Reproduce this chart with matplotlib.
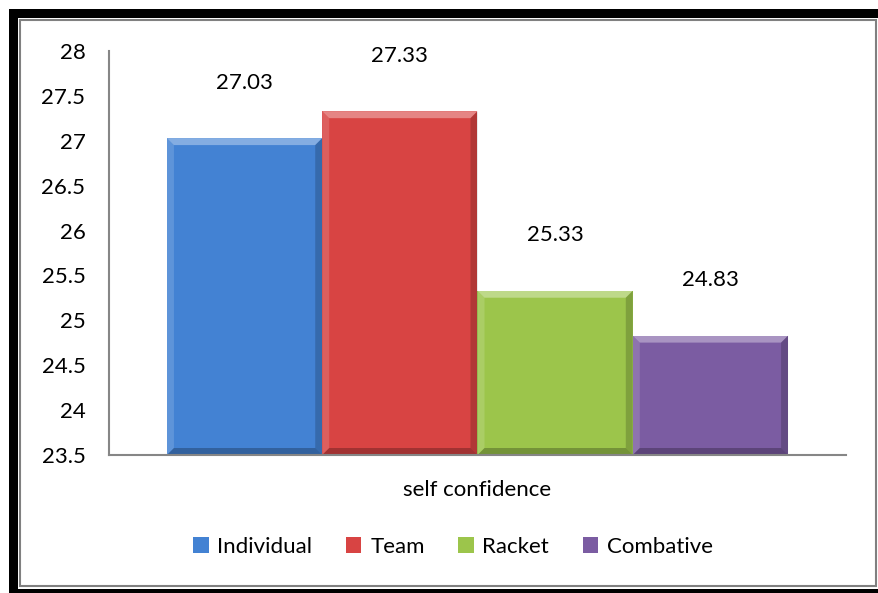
import matplotlib
matplotlib.use("Agg")
import matplotlib.pyplot as plt
from matplotlib.patches import Rectangle, Polygon
import numpy as np

category = "self confidence"
groups = ["Individual", "Team", "Racket", "Combative"]
values = [27.03, 27.33, 25.33, 24.83]
colors = ["#4382D3", "#D84443", "#9CC54B", "#7B5CA2"]
yticks = [23.5, 24, 24.5, 25, 25.5, 26, 26.5, 27, 27.5, 28]

W, H = 879, 593
plt.rcParams["font.family"] = ["Lato", "DejaVu Sans"]
fig = plt.figure(figsize=(W / 100, H / 100), dpi=100)

def px(x0, y0, x1, y1):
    # pixel box (top-left origin) -> figure fraction rect
    return (x0 / W, 1 - y1 / H, (x1 - x0) / W, (y1 - y0) / H)

# frame around the chart
for box in [(9, 9, 879, 18), (9, 9, 18, 593), (9, 589, 879, 593)]:
    x, y, w, h = px(*box)
    fig.add_artist(Rectangle((x, y), w, h, transform=fig.transFigure,
                             facecolor="black", edgecolor="none"))
x, y, w, h = px(20, 20, 876, 586)
fig.add_artist(Rectangle((x, y), w, h, transform=fig.transFigure,
                         facecolor="none", edgecolor="#808080", lw=1.5))

ax = fig.add_axes(px(109, 51, 846, 455))
n = len(groups)
bw = 0.2107
offsets = (np.arange(n) - (n - 1) / 2) * bw
bars = ax.bar(offsets, values, width=bw, color=colors, bottom=0, zorder=2)
ax.set_xlim(-0.5, 0.5)
ax.set_ylim(23.5, 28)

# bevel shading on each bar
bx = 7 / 737.0
by = 7 / (404 / 4.5)
y0 = 23.5
for b, c in zip(bars, colors):
    l = b.get_x(); r = l + b.get_width(); t = b.get_height()
    shades = [
        ([(l, t), (r, t), (r - bx, t - by), (l + bx, t - by)], "white", 0.35),
        ([(l, t), (l + bx, t - by), (l + bx, y0 + by), (l, y0)], "white", 0.15),
        ([(r, t), (r - bx, t - by), (r - bx, y0 + by), (r, y0)], "black", 0.18),
        ([(l, y0), (l + bx, y0 + by), (r - bx, y0 + by), (r, y0)], "black", 0.25),
    ]
    for pts, fc, a in shades:
        ax.add_patch(Polygon(pts, closed=True, facecolor=fc, alpha=a,
                             edgecolor="none", zorder=3))
    ax.annotate(f"{t:.2f}", (b.get_x() + b.get_width() / 2, t),
                xytext=(0, 40), textcoords="offset points",
                ha="center", va="center", fontsize=16)

for s in ["top", "right"]:
    ax.spines[s].set_visible(False)
for s in ["left", "bottom"]:
    ax.spines[s].set_color("#868686")
    ax.spines[s].set_linewidth(1.5)
ax.spines["bottom"].set_zorder(4)
ax.set_yticks(yticks, [f"{v:g}" for v in yticks])
ax.set_xticks([0], [category])
ax.tick_params(axis="y", length=0, pad=17, labelsize=16)
ax.tick_params(axis="x", length=0, pad=18, labelsize=16)

handles = [Rectangle((0, 0), 1, 1, facecolor=c) for c in colors]
fig.legend(handles, groups, loc="center", bbox_to_anchor=(453 / W, 1 - 547 / H),
           ncol=4, frameon=False, fontsize=16, handlelength=0.7, handleheight=0.7,
           handletextpad=0.4, columnspacing=1.5)

fig.savefig("out.png", dpi=100)
